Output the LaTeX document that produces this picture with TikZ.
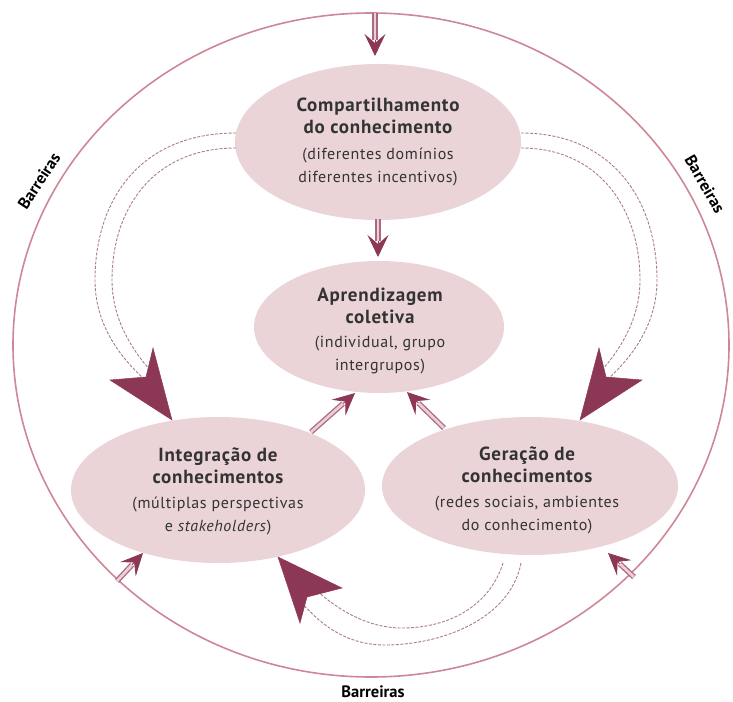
\documentclass[tikz,border=0pt]{standalone}
\usepackage{fontspec}
\setmainfont{PT Sans}
\usetikzlibrary{shapes.geometric,arrows.meta}
\definecolor{maroon}{RGB}{140,55,85}
\definecolor{bubblefill}{RGB}{234,212,215}
\definecolor{ringcol}{RGB}{205,135,150}
\definecolor{dashcol}{RGB}{170,125,138}
\definecolor{shaftin}{RGB}{238,205,214}
\newcommand\ttlfont{\bfseries\fontsize{19}{25}\selectfont}
\begin{document}
\begin{tikzpicture}[x=1pt,y=-1pt,
  bubble/.style={ellipse, fill=bubblefill, draw=none, inner sep=0pt},
  bubbletext/.style={align=center, text=black!80, inner sep=0pt, font=\fontsize{16}{23}\selectfont\addfontfeatures{LetterSpace=4}},
  barr/.style={font=\bfseries\fontsize{16.5}{18}\selectfont, inner sep=1pt},
  dashline/.style={draw=dashcol, line width=0.9pt, dash pattern=on 3pt off 1.5pt},
  smallhead/.style={draw=maroon, line width=0.8pt, -{Stealth[length=22pt,width=21pt,inset=9pt,fill=maroon]}},
  shaft/.style={draw=maroon!75, line width=1.3pt, double=shaftin, double distance=2.8pt, shorten >=16pt},
  bighead/.style={fill=maroon, draw=maroon, line width=0.5pt, line join=miter}
]
\useasboundingbox (0,0) rectangle (733,701);

% outer ring
\node[ellipse, draw=ringcol, line width=1.6pt, minimum width=716pt, minimum height=664pt, inner sep=0pt] (barrier) at (371,345) {};

% bubbles
\node[bubble, minimum width=286pt, minimum height=156pt] (share) at (378,142) {};
\node[bubble, minimum width=250pt, minimum height=132pt] (learn) at (379,327) {};
\node[bubble, minimum width=294pt, minimum height=146pt] (integ) at (218,490) {};
\node[bubble, minimum width=296pt, minimum height=138pt] (gener) at (530,486) {};

\node[bubbletext] (sharet) at (378,142) {{\ttlfont Compartilhamento}\\[-1pt]{\ttlfont do conhecimento}\\[3pt](diferentes domínios\\diferentes incentivos)};
\node[bubbletext] (learnt) at (380,331) {{\ttlfont Aprendizagem}\\[-1pt]{\ttlfont coletiva}\\[1pt](individual, grupo\\intergrupos)};
\node[bubbletext] (integt) at (218,491) {{\ttlfont Integração de}\\[-1pt]{\ttlfont conhecimentos}\\[2pt](múltiplas perspectivas\\e \textit{stakeholders})};
\node[bubbletext] (genert) at (527,490) {{\ttlfont Geração de}\\[-1pt]{\ttlfont conhecimentos}\\[2pt](redes sociais, ambientes\\do conhecimento)};

% Barreiras labels
\node[barr, rotate=57] (bl) at (39,181) {Barreiras};
\node[barr, rotate=-60] (br) at (705,184) {Barreiras};
\node[barr] (bb) at (373,692) {Barreiras};

% coordinates for connectors
\coordinate (ctop) at (375,13);
\coordinate (ttop) at (375,56);
\coordinate (s2) at (378,219);
\coordinate (t2) at (378,257);
\coordinate (s3) at (311,432);
\coordinate (t3) at (355,393);
\coordinate (s4) at (444,428);
\coordinate (t4) at (407,392);
\coordinate (s5) at (117,581);
\coordinate (t5) at (143,553);
\coordinate (s6) at (634,577);
\coordinate (t6) at (608,553);

% small arrows
\foreach \a/\b in {ctop/ttop, s2/t2, s3/t3, s4/t4, s5/t5, s6/t6}{
  \draw[smallhead] (\a) -- (\b);
  \draw[shaft] (\a) -- (\b);
}

% dashed double lines
\coordinate (lo1) at (236,133); \coordinate (li1) at (236,148);
\coordinate (ro1) at (521,133); \coordinate (ri1) at (521,148);
\coordinate (bo1) at (521,563); \coordinate (bi1) at (503,563);

\draw[dashline] (lo1) .. controls (140,133) and (95,200) .. (95,280) .. controls (95,320) and (115,352) .. (143,378);
\draw[dashline] (li1) .. controls (152,148) and (112,210) .. (112,280) .. controls (112,315) and (128,345) .. (150,370);
\draw[dashline] (ro1) .. controls (612,133) and (657,200) .. (657,280) .. controls (657,320) and (637,352) .. (609,378);
\draw[dashline] (ri1) .. controls (600,148) and (640,210) .. (640,280) .. controls (640,315) and (624,345) .. (602,370);
\draw[dashline] (bo1) .. controls (510,620) and (440,645) .. (385,645) .. controls (348,645) and (322,626) .. (302,603);
\draw[dashline] (bi1) .. controls (490,605) and (450,628) .. (402,628) .. controls (368,628) and (338,610) .. (316,590);

% big arrowheads
\coordinate (lt) at (172,420); \coordinate (lw1) at (110,380); \coordinate (ln) at (146,377); \coordinate (lw2) at (153,348);
\coordinate (rt) at (580,420); \coordinate (rw1) at (642,380); \coordinate (rn) at (606,377); \coordinate (rw2) at (599,348);
\coordinate (bt) at (278,557); \coordinate (bw1) at (342,588); \coordinate (bn) at (307,597); \coordinate (bw2) at (300,623);
\filldraw[bighead] (lt) -- (lw1) -- (ln) -- (lw2) -- cycle;
\filldraw[bighead] (rt) -- (rw1) -- (rn) -- (rw2) -- cycle;
\filldraw[bighead] (bt) -- (bw1) -- (bn) -- (bw2) -- cycle;
\end{tikzpicture}
\end{document}
